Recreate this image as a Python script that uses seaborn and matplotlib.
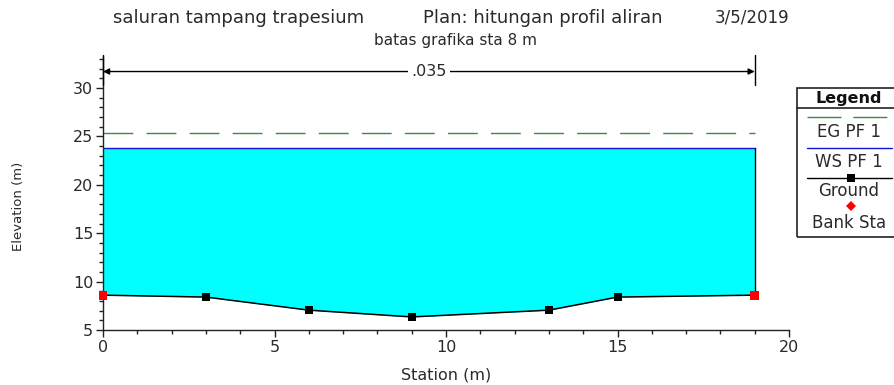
import matplotlib
matplotlib.use("Agg")
import matplotlib.pyplot as plt
from matplotlib.lines import Line2D
from matplotlib.patches import Rectangle
from matplotlib.ticker import MultipleLocator
import seaborn as sns
import pandas as pd

# Cross-section data
ground_sta = [0, 3, 6, 9, 13, 15, 19]
ground_elev = [8.6, 8.4, 7.05, 6.35, 7.05, 8.4, 8.6]
bank_sta = [0, 19]
bank_elev = [8.6, 8.6]
ws_elev = 23.83
eg_elev = 25.4
n_value = ".035"
n_span = [0, 19]

title_parts = ["saluran tampang trapesium", "Plan: hitungan profil aliran", "3/5/2019"]
subtitle = "batas grafika sta 8 m"
legend_labels = ["EG PF 1", "WS PF 1", "Ground", "Bank Sta"]

sns.set_style("ticks")
plt.rcParams["font.family"] = ["DejaVu Sans"]

TXT = "#2a2a2a"
EG_C = "#3C8C3C"
WS_C = "#1414D8"
W, H = 894, 385
fig = plt.figure(figsize=(W / 100, H / 100), dpi=100)
ax = fig.add_axes([103 / W, 1 - 330 / H, (789 - 103) / W, (330 - 57) / H])

ground = pd.DataFrame({"Station": ground_sta, "Elevation": ground_elev})

# water area between ground and water surface
ax.fill_between(ground_sta, ground_elev, ws_elev, color="#00FFFF", lw=0, zorder=1)
ax.plot([ground_sta[-1], ground_sta[-1]], [ground_elev[-1], ws_elev], color="black", lw=1, zorder=3)

# energy grade and water surface
ax.plot([ground_sta[0], ground_sta[-1]], [eg_elev, eg_elev], color=EG_C,
        lw=1, dashes=(21.5, 9.5), zorder=2)
ax.plot([ground_sta[0], ground_sta[-1]], [ws_elev, ws_elev], color=WS_C, lw=1, zorder=2)

# ground profile
sns.lineplot(data=ground, x="Station", y="Elevation", ax=ax, color="black", lw=1.1,
             marker="s", markersize=6, markeredgewidth=0, sort=False, zorder=4)
sns.scatterplot(x=bank_sta, y=bank_elev, ax=ax, color="#FF0000", marker="s", s=40,
                edgecolor="none", zorder=5, clip_on=False)

ax.set_xlim(0, 20)
ax.set_ylim(5, 33.2)
ax.xaxis.set_major_locator(MultipleLocator(5))
ax.xaxis.set_minor_locator(MultipleLocator(1))
ax.yaxis.set_major_locator(MultipleLocator(5))
ax.yaxis.set_minor_locator(MultipleLocator(1))
ax.tick_params(which="major", direction="out", length=5, width=1, colors="#222222",
               labelsize=11.5, pad=2, labelcolor=TXT)
ax.tick_params(which="minor", direction="out", length=3, width=1, colors="#222222")
for s in ["top", "right"]:
    ax.spines[s].set_visible(False)
for s in ["left", "bottom"]:
    ax.spines[s].set_color("#222222")
    ax.spines[s].set_linewidth(1)
ax.set_xlabel("Station (m)", fontsize=11.5, color=TXT)
ax.set_ylabel("Elevation (m)", fontsize=9.5, color=TXT)
ax.xaxis.set_label_coords(446 / W, 1 - 368 / H, transform=fig.transFigure)
ax.yaxis.set_label_coords(25 / W, 1 - 206 / H, transform=fig.transFigure)

# Manning's n span arrow
arrow_y = 31.7
ax.annotate("", xy=(n_span[0], arrow_y), xytext=(n_span[1], arrow_y),
            arrowprops=dict(arrowstyle="<|-|>", color="black", lw=1,
                            mutation_scale=9, shrinkA=0, shrinkB=0), zorder=6)
for xs in n_span:
    ax.plot([xs, xs], [30.3, 33.4], color="black", lw=1, clip_on=False, zorder=6)
ax.text(sum(n_span) / 2, arrow_y, n_value, ha="center", va="center", fontsize=11.5,
        color=TXT, zorder=7,
        bbox=dict(boxstyle="square,pad=0.2", fc="white", ec="none"))

# titles
fig.text(113 / W, 1 - 18 / H, title_parts[0], ha="left", va="center", fontsize=13, color=TXT)
fig.text(423 / W, 1 - 18 / H, title_parts[1], ha="left", va="center", fontsize=13, color=TXT)
fig.text(789 / W, 1 - 18 / H, title_parts[2], ha="right", va="center", fontsize=12, color=TXT)
fig.text(455 / W, 1 - 41 / H, subtitle, ha="center", va="center", fontsize=11, color=TXT)

# legend panel
def fx(x):
    return x / W

def fy(y):
    return 1 - y / H

T = fig.transFigure
fig.patches.append(Rectangle((fx(797), fy(237)), fx(905) - fx(797), fy(88) - fy(237),
                             transform=T, fill=False, ec="#222222", lw=1.2))
cx = 849
fig.text(fx(cx), fy(98), "Legend", ha="center", va="center", fontsize=11.5,
         fontweight="bold", color="#111111")
fig.lines.append(Line2D([fx(797), fx(905)], [fy(108), fy(108)], transform=T,
                        color="#222222", lw=1.2))
fig.lines.append(Line2D([fx(807), fx(892)], [fy(117), fy(117)], transform=T,
                        color=EG_C, lw=1, dashes=(24.5, 8.5)))
fig.text(fx(cx), fy(132), legend_labels[0], ha="center", va="center", fontsize=12, color=TXT)
fig.lines.append(Line2D([fx(807), fx(892)], [fy(148), fy(148)], transform=T,
                        color=WS_C, lw=1))
fig.text(fx(cx), fy(162), legend_labels[1], ha="center", va="center", fontsize=12, color=TXT)
fig.lines.append(Line2D([fx(807), fx(892)], [fy(178), fy(178)], transform=T,
                        color="black", lw=1))
fig.lines.append(Line2D([fx(851)], [fy(178)], transform=T, color="black",
                        marker="s", markersize=6, markeredgewidth=0, lw=0))
fig.text(fx(cx), fy(191), legend_labels[2], ha="center", va="center", fontsize=12, color=TXT)
fig.lines.append(Line2D([fx(851)], [fy(206)], transform=T, color="#FF0000",
                        marker="D", markersize=5.5, markeredgewidth=0, lw=0))
fig.text(fx(cx), fy(223), legend_labels[3], ha="center", va="center", fontsize=12, color=TXT)

fig.savefig("out.png", dpi=100, facecolor="white")
